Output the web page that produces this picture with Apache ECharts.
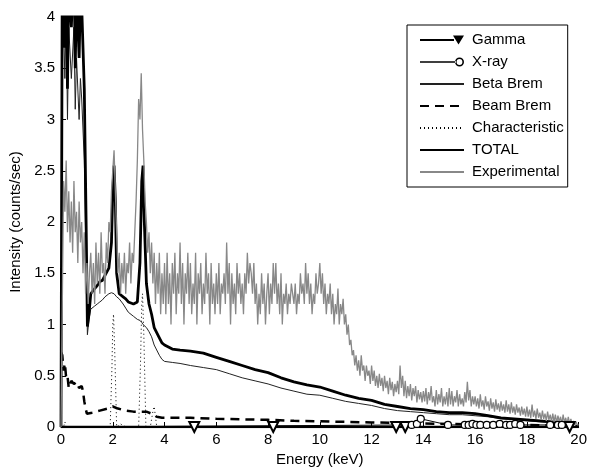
<!DOCTYPE html>
<html>
<head>
    <meta charset="utf-8">
    <title>Spectrum</title>
    <script src="https://cdn.jsdelivr.net/npm/echarts@6/dist/echarts.min.js"></script>
    <style>
        html, body { margin: 0; padding: 0; background: #fff; }
    </style>
</head>
<body>
    <div id="main" style="width:590px;height:472px"></div>
    <script type="text/javascript">
        // axis ticks
        var xTicks = [0, 2, 4, 6, 8, 10, 12, 14, 16, 18, 20];
        var yTicks = [0, 0.5, 1, 1.5, 2, 2.5, 3, 3.5, 4];

        // Gamma (markers only at lines, baseline 0)
        var gammaE = [0, 5.15, 8.2, 12.95, 13.3, 19.65, 20];
        var gammaI = [0, 0, 0, 0, 0, 0, 0];

        // X-ray
        var xrayE = [0, 13.55, 13.75, 13.9, 14.95, 15.6, 15.75, 15.9, 16.05, 16.2, 16.45, 16.7, 16.95, 17.2, 17.35, 17.55, 17.75, 18.9, 19.2, 19.35, 20];
        var xrayI = [0, 0.02, 0.03, 0.08, 0.02, 0.02, 0.02, 0.03, 0.02, 0.02, 0.02, 0.02, 0.03, 0.02, 0.02, 0.03, 0.02, 0.02, 0.02, 0.02, 0];

        // common energy grid for total / beta brem
        var contE = [0, 0.05, 0.1, 0.15, 0.2, 0.25, 0.3, 0.4, 0.5, 0.55, 0.6, 0.7, 0.75, 0.8, 0.9, 0.97, 1.02, 1.08, 1.15, 1.3, 1.4, 1.5, 1.6, 1.7, 1.85, 1.95, 2.0, 2.05, 2.1, 2.15, 2.25, 2.4, 2.5, 2.6, 2.8, 2.95, 3.05, 3.12, 3.17, 3.22, 3.3, 3.4, 3.5, 3.6, 3.8, 3.9, 4.0, 4.3, 4.6, 5.0, 5.5, 6.0, 6.5, 7.0, 7.5, 8.0, 8.5, 9.0, 9.5, 10.0, 10.5, 11.0, 11.5, 12.0, 12.5, 13.0, 13.5, 14.0, 14.5, 15.0, 15.5, 16.0, 16.5, 17.0, 17.5, 18.0, 18.5, 19.0, 19.5, 19.8];
        var totalI = [0, 4.6, 4.4, 3.7, 4.5, 3.3, 4.4, 3.9, 4.6, 3.5, 4.3, 3.6, 4.2, 4.1, 3.3, 2.0, 0.98, 1.1, 1.3, 1.35, 1.38, 1.42, 1.43, 1.48, 1.55, 1.8, 2.3, 2.55, 2.2, 1.5, 1.3, 1.27, 1.25, 1.22, 1.2, 1.22, 1.6, 2.4, 2.55, 2.0, 1.4, 1.2, 1.1, 0.97, 0.87, 0.82, 0.8, 0.76, 0.75, 0.74, 0.72, 0.68, 0.64, 0.6, 0.56, 0.53, 0.48, 0.44, 0.41, 0.39, 0.35, 0.31, 0.28, 0.26, 0.22, 0.2, 0.18, 0.17, 0.15, 0.14, 0.14, 0.13, 0.11, 0.09, 0.08, 0.07, 0.06, 0.05, 0.04, 0.04];
        var betaI = [0, 4.3, 3.9, 3.4, 4.1, 3.0, 3.9, 3.4, 3.9, 3.1, 3.6, 3.0, 3.4, 3.2, 2.6, 1.6, 0.9, 1.05, 1.15, 1.18, 1.2, 1.22, 1.24, 1.27, 1.3, 1.31, 1.32, 1.3, 1.31, 1.27, 1.25, 1.2, 1.16, 1.12, 1.08, 1.05, 1.04, 1.02, 1.0, 0.99, 0.97, 0.93, 0.88, 0.8, 0.7, 0.66, 0.64, 0.63, 0.62, 0.6, 0.58, 0.56, 0.52, 0.48, 0.45, 0.42, 0.38, 0.35, 0.32, 0.31, 0.28, 0.25, 0.23, 0.21, 0.18, 0.16, 0.15, 0.14, 0.13, 0.12, 0.12, 0.11, 0.1, 0.08, 0.07, 0.06, 0.05, 0.04, 0.03, 0.03];

        // Beam Brem
        var beamE = [0, 0.05, 0.1, 0.15, 0.2, 0.25, 0.3, 0.4, 0.5, 0.6, 0.7, 0.8, 0.85, 0.9, 0.95, 1.0, 1.2, 1.5, 1.8, 2.0, 2.2, 2.5, 2.8, 3.0, 3.3, 3.5, 3.7, 3.9, 4.5, 5.0, 6.0, 7.0, 8.0, 9.0, 10.0, 11.0, 12.0, 13.0, 14.0, 15.0, 16.0, 17.0, 18.0, 19.0, 20.0];
        var beamI = [0.73, 0.7, 0.55, 0.62, 0.48, 0.5, 0.38, 0.45, 0.42, 0.44, 0.38, 0.4, 0.35, 0.25, 0.18, 0.13, 0.14, 0.16, 0.18, 0.2, 0.18, 0.16, 0.15, 0.15, 0.15, 0.13, 0.1, 0.09, 0.09, 0.09, 0.08, 0.075, 0.07, 0.06, 0.055, 0.05, 0.045, 0.04, 0.035, 0.03, 0.025, 0.02, 0.02, 0.015, 0.01];

        // Characteristic
        var charE = [0, 0.1, 0.15, 0.2, 1.9, 1.97, 2.0, 2.03, 2.08, 2.15, 2.3, 2.5, 3.0, 3.07, 3.12, 3.15, 3.2, 3.28, 3.45, 3.55, 3.6, 3.7, 20];
        var charI = [0, 0, 0.05, 0, 0, 0.6, 1.0, 1.1, 0.7, 0, 0.03, 0, 0, 0.6, 1.2, 1.3, 0.9, 0, 0, 0.15, 0.2, 0, 0];

        // Experimental, channels 0.05 keV apart starting at 0
        var expStart = 0;
        var expStep = 0.05;
        var expI = [
            0.0, 1.2, 2.4, 2.1, 2.6, 1.9, 2.3, 1.8, 2.2, 1.7, 2.4, 1.9, 2.1, 1.6, 2.2, 1.8, 2.0, 1.5, 1.9, 1.3,
            1.6, 1.2, 1.5, 1.7, 1.3, 1.6, 1.2, 1.8, 1.4, 1.7, 1.3, 1.9, 1.5, 1.6, 1.3, 1.8, 1.6, 2.0, 1.9, 2.3,
            2.5, 2.7, 2.3, 1.9, 1.5, 1.7, 1.3, 1.6, 1.4, 1.7, 1.3, 1.6, 1.5, 1.8, 1.4, 1.7, 1.6, 1.9, 2.2, 2.6,
            3.2, 3.0, 3.45, 2.9, 2.6, 2.2, 2.0, 1.7, 1.9, 1.5, 1.8, 1.4, 1.7, 1.2, 1.6, 1.3, 1.7, 1.1, 1.5, 1.2,
            1.6, 1.1, 1.7, 1.2, 1.5, 1.0, 1.6, 1.3, 1.7, 1.1, 1.5, 1.3, 1.8, 1.2, 1.6, 1.0, 1.5, 1.3, 1.7, 1.2,
            1.6, 1.1, 1.4, 1.2, 1.7, 1.0, 1.5, 1.3, 1.6, 1.1, 1.4, 1.2, 1.7, 1.3, 1.5, 1.0, 1.6, 1.2, 1.4, 1.1,
            1.5, 1.2, 1.6, 1.1, 1.4, 1.3, 1.5, 1.2, 1.8, 1.3, 1.6, 1.0, 1.5, 1.2, 1.4, 1.1, 1.6, 1.3, 1.5, 1.2,
            1.4, 1.1, 1.5, 1.3, 1.7, 1.4, 1.6, 1.5, 1.3, 1.6, 1.2, 1.4, 1.0, 1.3, 1.1, 1.5, 1.2, 1.4, 1.0, 1.3,
            1.5, 1.1, 1.4, 1.2, 1.6, 1.3, 1.6, 1.2, 1.4, 1.1, 1.5, 1.0, 1.3, 1.2, 1.4, 1.1, 1.3, 1.2, 1.4, 1.3,
            1.2, 1.4, 1.1, 1.3, 1.2, 1.5, 1.3, 1.4, 1.2, 1.6, 1.3, 1.5, 1.2, 1.4, 1.1, 1.3, 1.2, 1.5, 1.3, 1.4,
            1.6, 1.3, 1.5, 1.2, 1.4, 1.1, 1.3, 1.2, 1.4, 1.1, 1.3, 1.0, 1.2, 1.1, 1.35, 1.0, 1.2, 1.1, 1.25, 1.0,
            1.1, 0.9, 1.0, 0.8, 0.85, 0.7, 0.75, 0.6, 0.7, 0.55, 0.65, 0.5, 0.7, 0.55, 0.6, 0.45, 0.6, 0.5, 0.55, 0.42,
            0.6, 0.45, 0.55, 0.4, 0.5, 0.38, 0.52, 0.4, 0.48, 0.35, 0.5, 0.38, 0.45, 0.32, 0.48, 0.36, 0.44, 0.3, 0.42, 0.34,
            0.45, 0.32, 0.6, 0.38, 0.5, 0.3, 0.45, 0.28, 0.4, 0.3, 0.42, 0.26, 0.38, 0.3, 0.4, 0.24, 0.36, 0.27, 0.34, 0.24,
            0.35, 0.25, 0.38, 0.22, 0.34, 0.26, 0.4, 0.24, 0.3, 0.2, 0.36, 0.22, 0.32, 0.24, 0.38, 0.2, 0.3, 0.22, 0.34, 0.2,
            0.38, 0.22, 0.35, 0.2, 0.3, 0.24, 0.36, 0.2, 0.32, 0.22, 0.28, 0.2, 0.34, 0.24, 0.44, 0.26, 0.36, 0.2, 0.3, 0.22,
            0.3, 0.2, 0.28, 0.18, 0.32, 0.2, 0.26, 0.17, 0.3, 0.2, 0.25, 0.16, 0.28, 0.18, 0.24, 0.15, 0.27, 0.17, 0.23, 0.15,
            0.25, 0.16, 0.22, 0.14, 0.26, 0.15, 0.22, 0.13, 0.24, 0.14, 0.2, 0.12, 0.22, 0.14, 0.19, 0.11, 0.2, 0.12, 0.18, 0.1,
            0.2, 0.1, 0.17, 0.09, 0.22, 0.1, 0.16, 0.08, 0.18, 0.09, 0.14, 0.07, 0.16, 0.08, 0.13, 0.06, 0.15, 0.07, 0.12, 0.05,
            0.13, 0.05, 0.12, 0.04, 0.11, 0.05, 0.1, 0.03, 0.12, 0.04, 0.09, 0.03, 0.1, 0.03, 0.08, 0.02, 0.06, 0.02, 0.05, 0.02,
            0.02
        ];

        function pairs(xs, ys) {
            return xs.map(function (x, i) { return [x, ys[i]]; });
        }
        // markers only on the inner points, not on the end points
        function markedPairs(xs, ys) {
            return xs.map(function (x, i) {
                var p = { value: [x, ys[i]] };
                if (i === 0 || i === xs.length - 1) p.symbol = 'none';
                return p;
            });
        }
        var expData = expI.map(function (v, i) {
            return [+(expStart + i * expStep).toFixed(2), v];
        });

        // legend icons: line with marker at the right end (matlab style)
        var gammaIcon = 'path://M0,4H34V6H0Z M33,0.5H44L38.5,9.5Z';
        var xrayIcon = 'path://M0,4.3H36V5.7H0Z M35,5a4.5,4.5 0 1,0 9,0a4.5,4.5 0 1,0 -9,0Z M36.6,5a2.9,2.9 0 1,1 5.8,0a2.9,2.9 0 1,1 -5.8,0Z';
        var iconStyle = { color: '#000', borderWidth: 0 };
        var noMark = { opacity: 0 };
        var font = "'Liberation Sans', Arial, sans-serif";
        var chart = echarts.init(document.getElementById('main'));
        chart.setOption({
            animation: false,
            textStyle: { fontFamily: font, color: '#000' },
            grid: { left: 61, right: 9, top: 17, bottom: 45 },
            legend: {
                orient: 'vertical',
                left: 407,
                top: 25,
                padding: [7, 4, 7, 12],
                itemWidth: 44,
                itemHeight: 10,
                itemGap: 6,
                borderColor: '#000',
                borderWidth: 1,
                backgroundColor: '#fff',
                textStyle: { fontFamily: font, fontSize: 15, color: '#000', lineHeight: 16, padding: [0, 0, 0, 3] },
                data: [
                    { name: 'Gamma', icon: gammaIcon, itemStyle: iconStyle },
                    { name: 'X-ray', icon: xrayIcon, itemStyle: iconStyle },
                    { name: 'Beta Brem', itemStyle: noMark },
                    { name: 'Beam Brem', itemStyle: noMark },
                    { name: 'Characteristic', itemStyle: noMark },
                    { name: 'TOTAL', itemStyle: noMark },
                    { name: 'Experimental', itemStyle: noMark }
                ]
            },
            xAxis: {
                type: 'value',
                min: xTicks[0],
                max: xTicks[xTicks.length - 1],
                interval: xTicks[1] - xTicks[0],
                name: 'Energy (keV)',
                nameLocation: 'middle',
                nameGap: 25,
                nameTextStyle: { fontFamily: font, fontSize: 15, color: '#000' },
                axisLine: { lineStyle: { color: '#000', width: 1 } },
                axisTick: { inside: true, length: 5, lineStyle: { color: '#000' } },
                axisLabel: { fontFamily: font, fontSize: 15, color: '#000', margin: 5 },
                splitLine: { show: false }
            },
            yAxis: {
                type: 'value',
                min: yTicks[0],
                max: yTicks[yTicks.length - 1],
                interval: yTicks[1] - yTicks[0],
                name: 'Intensity (counts/sec)',
                nameLocation: 'middle',
                nameGap: 36,
                nameTextStyle: { fontFamily: font, fontSize: 15, color: '#000' },
                axisLine: { show: true, lineStyle: { color: '#000', width: 1 } },
                axisTick: { show: true, inside: true, length: 5, lineStyle: { color: '#000' } },
                axisLabel: { fontFamily: font, fontSize: 15, color: '#000', margin: 6 },
                splitLine: { show: false }
            },
            series: [
                {
                    name: 'Gamma', type: 'line', data: markedPairs(gammaE, gammaI),
                    symbol: 'triangle', symbolRotate: 180, symbolSize: 10,
                    lineStyle: { color: '#000', width: 2.5 },
                    itemStyle: { color: '#fff', borderColor: '#000', borderWidth: 2 }
                },
                {
                    name: 'X-ray', type: 'line', data: markedPairs(xrayE, xrayI),
                    symbol: 'circle', symbolSize: 7,
                    lineStyle: { color: '#000', width: 1 },
                    itemStyle: { color: '#fff', borderColor: '#000', borderWidth: 1.2 }
                },
                {
                    name: 'Beta Brem', type: 'line', data: pairs(contE, betaI),
                    symbol: 'none', lineStyle: { color: '#222', width: 1 }, itemStyle: { color: '#222' }
                },
                {
                    name: 'Beam Brem', type: 'line', data: pairs(beamE, beamI),
                    symbol: 'none', lineStyle: { color: '#000', width: 2.5, type: [9, 6] }, itemStyle: { color: '#000' }
                },
                {
                    name: 'Characteristic', type: 'line', data: pairs(charE, charI),
                    symbol: 'none', lineStyle: { color: '#000', width: 1, type: [1, 3] }, itemStyle: { color: '#000' }
                },
                {
                    name: 'TOTAL', type: 'line', data: pairs(contE, totalI),
                    symbol: 'none', lineStyle: { color: '#000', width: 2.8 }, itemStyle: { color: '#000' }
                },
                {
                    name: 'Experimental', type: 'line', data: expData,
                    symbol: 'none', lineStyle: { color: '#888', width: 1.3 }, itemStyle: { color: '#888' }
                }
            ]
        });
    </script>
</body>
</html>
